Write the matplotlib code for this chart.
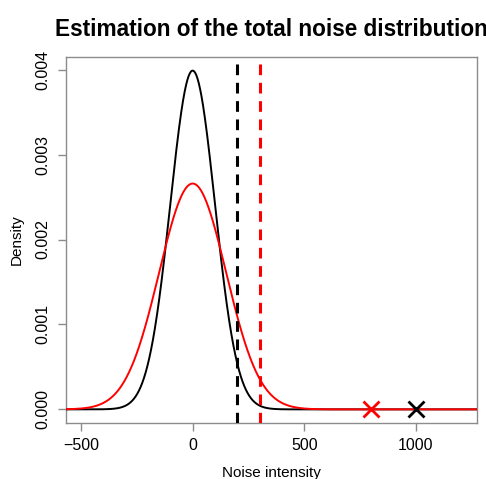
import matplotlib
matplotlib.use("Agg")
import matplotlib.pyplot as plt
import numpy as np

# density curves (normal shapes: mean, sd)
curve_colors = ["black", "red"]
curve_means = [0, 0]
curve_sds = [100, 150]

# dashed thresholds and the cross markers on the zero line
vline_x = [200, 300]
vline_colors = ["black", "red"]
cross_x = [800, 1000]
cross_y = [0, 0]
cross_colors = ["red", "black"]

xticks = [-500, 0, 500, 1000]
yticks = [0.000, 0.001, 0.002, 0.003, 0.004]

plt.rcParams["font.family"] = ["Liberation Sans", "DejaVu Sans"]

fig = plt.figure(figsize=(4.86, 4.79), dpi=100)
ax = fig.add_axes([0.136, 0.117, 0.845, 0.764])

xmin, xmax = -567, 1273
xs = np.linspace(xmin, xmax, 1500)
for m, s, c in zip(curve_means, curve_sds, curve_colors):
    ys = np.exp(-0.5 * ((xs - m) / s) ** 2) / (s * np.sqrt(2 * np.pi))
    ax.plot(xs, ys, color=c, lw=1.4, zorder=3)

for x, c in zip(vline_x, vline_colors):
    ax.axvline(x, color=c, lw=2.2, ls=(0, (3.5, 2.5)), zorder=4)

for x, y, c in zip(cross_x, cross_y, cross_colors):
    ax.plot(x, y, marker="x", ms=12, mew=2, color=c, ls="none", zorder=5)

ax.set_xlim(xmin, xmax)
ax.set_ylim(-0.00016, 0.00415)
ax.set_xticks(xticks)
ax.set_xticklabels([str(t).replace("-", "\u2212") for t in xticks])
ax.set_yticks(yticks)
ax.set_yticklabels(["%.3f" % t for t in yticks], rotation=90, va="center")

for sp in ax.spines.values():
    sp.set_color("#8c8c8c")
    sp.set_linewidth(1)
ax.tick_params(color="#8c8c8c", length=6, width=1, labelsize=11.5, pad=5)

ax.set_xlabel("Noise intensity", fontsize=11, labelpad=9)
ax.set_ylabel("Density", fontsize=11, labelpad=9)
ax.set_title("Estimation of the total noise distribution", fontsize=16.3,
             weight="bold", pad=15)

fig.savefig("out.png", dpi=100)
